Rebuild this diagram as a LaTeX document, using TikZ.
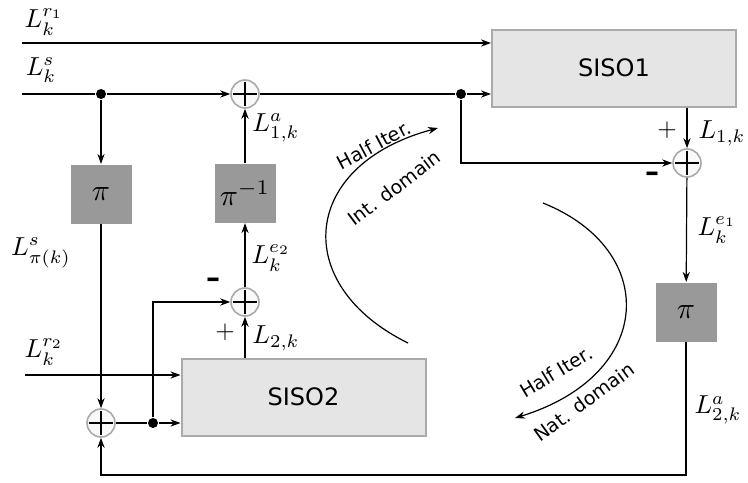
\documentclass[tikz,border=0pt]{standalone}
\usepackage{graphicx}
\usepackage{fontspec}
\setsansfont{DejaVu Sans}
\usetikzlibrary{arrows.meta}

\begin{document}
\begin{tikzpicture}[x=0.5pt, y=-0.5pt, line width=0.6pt,
	>={Stealth[length=5pt, width=3.6pt, inset=1.6pt]},
	siso/.style={draw=gray!67, fill=gray!20, line width=1pt, minimum width=122pt, minimum height=38.5pt, inner sep=0pt, font=\sffamily\fontsize{12}{14}\selectfont},
	perm/.style={fill=gray!80, minimum width=30.5pt, minimum height=29.5pt, inner sep=0pt},
	adder/.style={circle, draw=gray!67, fill=gray!5, line width=0.8pt, minimum size=14pt, inner sep=0pt,
		path picture={\draw[black, line width=0.9pt]
			([yshift=-1.2pt]path picture bounding box.north) -- ([yshift=1.2pt]path picture bounding box.south)
			([xshift=1.2pt]path picture bounding box.west) -- ([xshift=-1.2pt]path picture bounding box.east);}},
	dot/.style={circle, fill, minimum size=5pt, inner sep=0pt},
	lbl/.style={inner sep=0pt, scale=1.3},
	plus/.style={inner sep=0pt, scale=1.25},
	minus/.style={inner sep=0pt, font=\sffamily\bfseries\fontsize{14}{16}\selectfont},
	iter/.style={inner sep=0pt, font=\sffamily\fontsize{9.5}{11}\selectfont}]
	\useasboundingbox (0,0) rectangle (748,482);
	% decoders and interleavers
	\node[siso] (siso1) at (614,68) {SISO1};
	\node[siso] (siso2) at (303.5,397) {SISO2};
	\node[perm] (pia) at (101,194) {\scalebox{1.5}{$\pi$}};
	\node[perm] (pinv) at (245,193) {\scalebox{1.5}{$\pi^{-1}$}};
	\node[perm] (pib) at (686,312) {\scalebox{1.5}{$\pi$}};
	% adders and branch points
	\node[adder] (add1) at (245,94) {};
	\node[adder] (add2) at (245,302) {};
	\node[adder] (add3) at (687,163) {};
	\node[adder] (add4) at (101,423) {};
	\node[dot] (d1) at (101,94) {};
	\node[dot] (d2) at (461,94) {};
	\node[dot] (d3) at (153,423) {};
	\coordinate (r1in) at (22,43);
	\coordinate (sin) at (22,94);
	\coordinate (r2in) at (25,375);
	\coordinate (lo) at (400,475);
	% connections
	\draw [->] (r1in) -- (r1in -| siso1.west);
	\draw (sin) -- (d1);
	\draw [->] (d1) -- (add1);
	\draw (add1) -- (d2);
	\draw [->] (d2) -- (d2 -| siso1.west);
	\draw [->] (d1) -- (pia);
	\draw [->] (pia) -- (add4);
	\draw [->] (r2in) -- (r2in -| siso2.west);
	\draw (add4) -- (d3);
	\draw [->] (d3) -- (d3 -| siso2.west);
	\draw [->] (d3) |- (add2);
	\draw [->] (siso2.north -| add2) -- (add2);
	\draw [->] (add2) -- (pinv);
	\draw [->] (pinv) -- (add1);
	\draw [->] (siso1.south -| add3) -- (add3);
	\draw [->] (d2) |- (add3);
	\draw [->] (add3) -- (pib);
	\draw [->] (pib) -- (pib |- lo) -| (add4);
	% labels
	\node[lbl] at (44,22) {$L_k^{r_1}$};
	\node[lbl] at (41,70) {$L_k^{s}$};
	\node[lbl] at (276,128) {$L^a_{1,k}$};
	\node[lbl] at (41,253) {$L^s_{\pi(k)}$};
	\node[lbl] at (271,258) {$L^{e_2}_k$};
	\node[lbl] at (276,338) {$L_{2,k}$};
	\node[lbl] at (44,352) {$L_k^{r_2}$};
	\node[lbl] at (722,133) {$L_{1,k}$};
	\node[lbl] at (717,230) {$L^{e_1}_k$};
	\node[lbl] at (718,410) {$L^a_{2,k}$};
	\node[plus] at (225,332) {$+$};
	\node[minus] at (213,283) {--};
	\node[plus] at (667,130) {$+$};
	\node[minus] at (652,177) {--};
	% half iterations
	\coordinate (ha) at (408,343);
	\coordinate (hb) at (438,128);
	\coordinate (hc) at (543,203);
	\coordinate (hd) at (515,418);
	\draw [->] (ha) .. controls (290,285) and (300,165) .. (hb);
	\draw [->] (hc) .. controls (660,250) and (655,375) .. (hd);
	\node[iter, rotate=28] at (374,145) {Half Iter.};
	\node[iter, rotate=37] at (394,188) {Int. domain};
	\node[iter, rotate=31] at (556,372) {Half Iter.};
	\node[iter, rotate=36] at (584,402) {Nat. domain};
\end{tikzpicture}
\end{document}
